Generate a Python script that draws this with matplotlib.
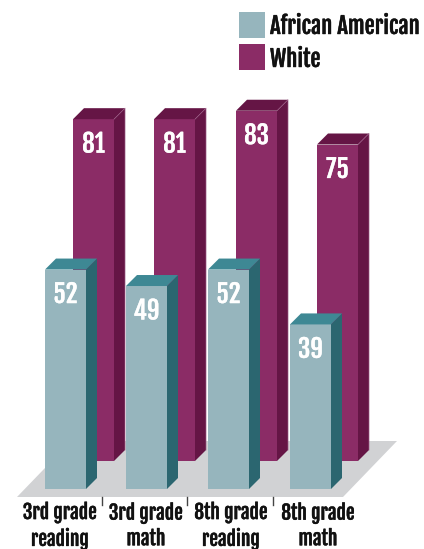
import matplotlib
matplotlib.use("Agg")
import matplotlib.pyplot as plt
import matplotlib.patheffects as pe
from matplotlib.patches import Polygon, Rectangle

plt.rcParams['font.family'] = ['Fjalla One', 'Archivo Narrow', 'Liberation Sans', 'DejaVu Sans']

categories = ["3rd grade\nreading", "3rd grade\nmath", "8th grade\nreading", "8th grade\nmath"]
# the 49 bar is drawn a bit short in the picture, so heights and printed labels are kept apart
african_american = [52, 48.1, 52, 39]
african_american_labels = ["52", "49", "52", "39"]
white = [81, 81, 83, 75]
white_labels = ["81", "81", "83", "75"]

AA_LEFT = [45, 126, 208, 290]
WHITE_LEFT = [73, 154, 236, 317]
LABEL_X = [60, 146, 231, 318]
TICK_X = [102, 187, 273]
BAR_W = 41
PX_PER_UNIT = 4.22
BASE_PX = 489
DEPTH = 11 / PX_PER_UNIT   # depth of a bar in value units
WHITE_BOTTOM = 28 / PX_PER_UNIT

fig = plt.figure(figsize=(4.24, 5.49), dpi=100)
ax = fig.add_axes([0, 0, 1, 1])
ax.set_xlim(0, 424)
ax.set_ylim((BASE_PX - 549) / PX_PER_UNIT, BASE_PX / PX_PER_UNIT)
ax.axis('off')


def to_y(px):
    return (BASE_PX - px) / PX_PER_UNIT


def heavy(col, w=0.3):
    # Fjalla has one weight only, thicken it a little
    return [pe.withStroke(linewidth=w, foreground=col)]


# floor
ax.add_patch(Polygon([(17, to_y(497)), (343, to_y(497)), (397, to_y(441)), (71, to_y(441))],
                     color='#D1D2D4', lw=0, zorder=1))


def bars(lefts, values, labels, bottom, front, side, top, z, edge=None):
    for x, v, lab in zip(lefts, values, labels):
        y1 = bottom + v
        ax.bar(x, v, BAR_W, bottom=bottom, align='edge', color=front, lw=0, zorder=z)
        ax.add_patch(Polygon([(x + BAR_W, bottom), (x + BAR_W + 11, bottom + DEPTH),
                              (x + BAR_W + 11, y1 + DEPTH), (x + BAR_W, y1)],
                             color=side, lw=0, zorder=z))
        ax.add_patch(Polygon([(x, y1), (x + 11, y1 + DEPTH),
                              (x + BAR_W + 11, y1 + DEPTH), (x + BAR_W, y1)],
                             color=top, lw=0, zorder=z))
        if edge:
            ax.plot([x + BAR_W, x + BAR_W + 11, x + BAR_W + 11], [y1, y1 + DEPTH, bottom + DEPTH],
                    color=edge, lw=0.5, zorder=z)
        ax.text(x + BAR_W / 2, y1 - 25 / PX_PER_UNIT, lab, color='white', fontsize=18,
                ha='center', va='center', zorder=z + 1, path_effects=heavy('white', 0.2))


bars(WHITE_LEFT, white, white_labels, WHITE_BOTTOM, '#8B2C66', '#651545', '#651545', 2, edge='#9A5A84')
bars(AA_LEFT, african_american, african_american_labels, 0, '#96B5BD', '#2B6670', '#3E8894', 4)

# ticks between groups
for x in TICK_X:
    ax.plot([x, x], [to_y(497), to_y(505)], color='#444444', lw=1, zorder=1)

for x, lab in zip(LABEL_X, categories):
    ax.text(x, to_y(526), lab, fontsize=14, color='#111111',
            ha='center', va='center', linespacing=1.27, path_effects=heavy('#111111'))

# legend
for py, txt_y, col, name in [(12, 26, '#96B5BD', 'African American'), (44, 59, '#8B2C66', 'White')]:
    ax.add_patch(Rectangle((239, to_y(py + 26)), 26, 26 / PX_PER_UNIT, color=col, lw=0))
    ax.text(270, to_y(txt_y), name, fontsize=16.3, color='#111111',
            ha='left', va='center', path_effects=heavy('#111111'))

fig.savefig('out.png', dpi=100)
